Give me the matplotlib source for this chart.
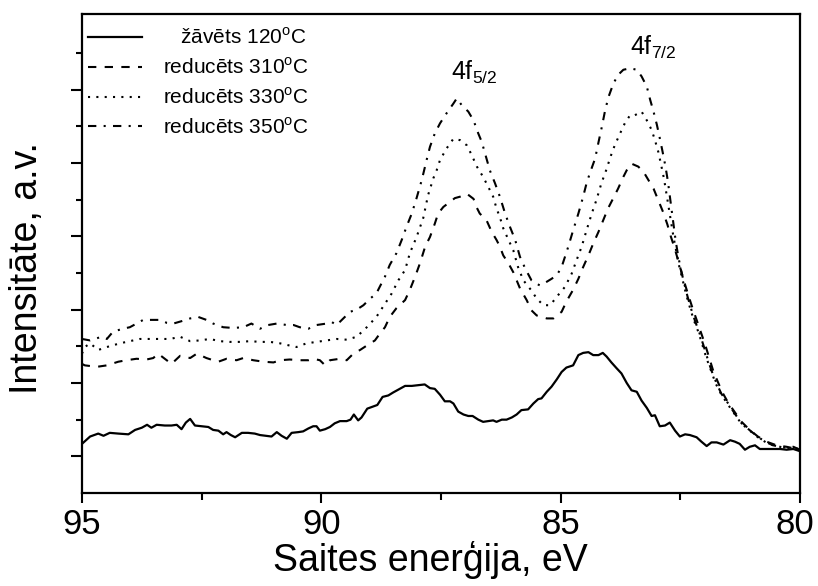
import matplotlib
matplotlib.use("Agg")
import matplotlib.pyplot as plt
import matplotlib.transforms as mtransforms
from matplotlib.ticker import FixedLocator, NullFormatter

plt.rcParams['font.family'] = ['Liberation Sans', 'DejaVu Sans']
plt.rcParams['mathtext.fontset'] = 'custom'
plt.rcParams['mathtext.rm'] = 'Liberation Sans'

# žāvēts 120 C
e_120 = [95.0, 94.83, 94.66, 94.55, 94.42, 94.24, 94.03, 93.89, 93.75, 93.64, 93.55, 93.44, 93.27, 93.13,
         93.02, 92.92, 92.83, 92.74, 92.64, 92.50, 92.36, 92.26, 92.15, 92.05, 91.98, 91.89, 91.80, 91.66,
         91.53, 91.39, 91.28, 91.16, 91.04, 90.93, 90.83, 90.72, 90.62, 90.48, 90.38, 90.27, 90.17, 90.10,
         90.03, 89.92, 89.82, 89.72, 89.61, 89.47, 89.39, 89.32, 89.23, 89.16, 89.04, 88.91, 88.83, 88.72,
         88.60, 88.50, 88.36, 88.25, 88.11, 87.97, 87.84, 87.73, 87.63, 87.52, 87.42, 87.31, 87.24, 87.14,
         87.03, 86.93, 86.84, 86.72, 86.62, 86.51, 86.41, 86.34, 86.23, 86.13, 86.02, 85.92, 85.82, 85.68,
         85.57, 85.47, 85.40, 85.29, 85.19, 85.08, 84.98, 84.88, 84.74, 84.63, 84.53, 84.42, 84.32, 84.21,
         84.12, 84.04, 83.94, 83.83, 83.73, 83.62, 83.52, 83.41, 83.31, 83.20, 83.10, 83.03, 82.93, 82.82,
         82.72, 82.61, 82.51, 82.40, 82.30, 82.16, 82.06, 81.95, 81.85, 81.74, 81.60, 81.46, 81.36, 81.26,
         81.15, 81.05, 80.94, 80.84, 80.63, 80.42, 80.28, 80.14, 80.00]
i_120 = [0.17, 0.27, 0.31, 0.28, 0.32, 0.31, 0.30, 0.36, 0.39, 0.43, 0.39, 0.43, 0.42, 0.42,
         0.43, 0.37, 0.46, 0.51, 0.42, 0.41, 0.40, 0.36, 0.35, 0.30, 0.33, 0.29, 0.26, 0.32,
         0.32, 0.31, 0.29, 0.28, 0.27, 0.33, 0.28, 0.24, 0.32, 0.33, 0.34, 0.38, 0.41, 0.41,
         0.35, 0.37, 0.40, 0.45, 0.48, 0.48, 0.50, 0.57, 0.49, 0.53, 0.65, 0.68, 0.70, 0.81,
         0.83, 0.87, 0.92, 0.96, 0.96, 0.97, 0.98, 0.93, 0.92, 0.84, 0.75, 0.75, 0.72, 0.61,
         0.57, 0.55, 0.55, 0.50, 0.47, 0.48, 0.49, 0.47, 0.50, 0.50, 0.53, 0.57, 0.63, 0.64,
         0.72, 0.78, 0.79, 0.88, 0.95, 1.05, 1.15, 1.21, 1.24, 1.38, 1.41, 1.42, 1.38, 1.38,
         1.41, 1.36, 1.28, 1.20, 1.13, 1.00, 0.90, 0.88, 0.76, 0.66, 0.55, 0.56, 0.41, 0.42,
         0.46, 0.35, 0.27, 0.30, 0.29, 0.26, 0.20, 0.14, 0.19, 0.19, 0.16, 0.22, 0.20, 0.17,
         0.09, 0.13, 0.15, 0.10, 0.10, 0.10, 0.09, 0.10, 0.07]

# reducēts 310 C
e_310 = [95.0, 94.94, 94.69, 94.48, 94.24, 94.07, 93.86, 93.65, 93.51, 93.41, 93.23, 93.13, 92.95, 92.74,
         92.60, 92.40, 92.26, 92.15, 91.98, 91.77, 91.63, 91.42, 91.21, 91.00, 90.86, 90.66, 90.45, 90.27,
         90.17, 90.03, 89.92, 89.82, 89.61, 89.47, 89.33, 89.19, 89.05, 88.88, 88.78, 88.67, 88.57, 88.43,
         88.25, 88.15, 88.04, 87.94, 87.83, 87.73, 87.63, 87.56, 87.45, 87.35, 87.21, 87.10, 86.96, 86.82,
         86.76, 86.69, 86.55, 86.44, 86.34, 86.27, 86.20, 86.09, 85.99, 85.85, 85.71, 85.61, 85.50, 85.29,
         85.15, 84.98, 84.88, 84.74, 84.63, 84.53, 84.42, 84.32, 84.21, 84.11, 84.01, 83.90, 83.80, 83.69,
         83.62, 83.52, 83.38, 83.27, 83.17, 83.06, 82.96, 82.86, 82.77, 82.70, 82.62, 82.55, 82.48, 82.41,
         82.33, 82.25, 82.16, 82.07, 81.98, 81.90, 81.82, 81.72, 81.62, 81.50, 81.36, 81.22, 81.05, 80.88,
         80.70, 80.49, 80.28, 80.00]
i_310 = [1.26, 1.24, 1.22, 1.24, 1.29, 1.31, 1.33, 1.32, 1.34, 1.40, 1.31, 1.26, 1.37, 1.34,
         1.40, 1.34, 1.31, 1.29, 1.33, 1.31, 1.34, 1.31, 1.29, 1.28, 1.31, 1.32, 1.31, 1.31,
         1.33, 1.31, 1.24, 1.31, 1.33, 1.31, 1.40, 1.45, 1.51, 1.58, 1.67, 1.76, 1.90, 2.02,
         2.13, 2.27, 2.45, 2.63, 2.86, 2.99, 3.17, 3.31, 3.40, 3.45, 3.52, 3.54, 3.58, 3.51,
         3.40, 3.31, 3.22, 3.06, 2.95, 2.86, 2.74, 2.63, 2.51, 2.29, 2.13, 1.99, 1.92, 1.88,
         1.88, 1.97, 2.11, 2.27, 2.42, 2.58, 2.74, 2.90, 3.06, 3.22, 3.38, 3.52, 3.65, 3.81,
         3.90, 3.99, 3.95, 3.88, 3.77, 3.65, 3.49, 3.33, 3.16, 3.00, 2.84, 2.68, 2.52, 2.36,
         2.19, 2.03, 1.86, 1.69, 1.52, 1.35, 1.18, 1.02, 0.87, 0.73, 0.60, 0.47, 0.36, 0.27,
         0.20, 0.15, 0.13, 0.09]

# reducēts 330 C
e_330 = [95.0, 94.94, 94.83, 94.66, 94.48, 94.21, 94.00, 93.79, 93.58, 93.37, 93.16, 92.95, 92.74, 92.54,
         92.33, 92.12, 91.91, 91.70, 91.49, 91.28, 91.07, 90.86, 90.66, 90.52, 90.31, 90.10, 89.89, 89.68,
         89.47, 89.26, 89.05, 88.85, 88.67, 88.53, 88.39, 88.25, 88.15, 88.01, 87.87, 87.77, 87.66, 87.59,
         87.52, 87.38, 87.24, 87.10, 86.96, 86.86, 86.75, 86.62, 86.51, 86.41, 86.34, 86.27, 86.20, 86.09,
         85.99, 85.89, 85.78, 85.61, 85.50, 85.36, 85.22, 85.05, 84.91, 84.77, 84.67, 84.56, 84.46, 84.35,
         84.25, 84.15, 84.05, 83.95, 83.87, 83.76, 83.66, 83.55, 83.45, 83.31, 83.20, 83.10, 83.03, 82.96,
         82.90, 82.84, 82.79, 82.74, 82.69, 82.64, 82.58, 82.52, 82.45, 82.38, 82.30, 82.22, 82.12, 82.04,
         81.96, 81.86, 81.76, 81.65, 81.51, 81.37, 81.23, 81.05, 80.88, 80.71, 80.56, 80.35, 80.14, 80.00]
i_330 = [1.40, 1.49, 1.54, 1.45, 1.49, 1.54, 1.57, 1.60, 1.60, 1.60, 1.60, 1.63, 1.57, 1.58,
         1.60, 1.57, 1.56, 1.56, 1.57, 1.56, 1.56, 1.54, 1.51, 1.49, 1.54, 1.56, 1.58, 1.60,
         1.59, 1.63, 1.76, 1.90, 2.08, 2.22, 2.40, 2.54, 2.77, 2.99, 3.25, 3.56, 3.79, 3.90,
         4.04, 4.20, 4.33, 4.31, 4.24, 4.11, 3.95, 3.81, 3.67, 3.54, 3.38, 3.26, 3.11, 2.95,
         2.81, 2.58, 2.40, 2.26, 2.15, 2.06, 2.06, 2.20, 2.31, 2.49, 2.67, 2.86, 3.08, 3.31,
         3.50, 3.72, 3.90, 4.10, 4.24, 4.40, 4.54, 4.65, 4.65, 4.70, 4.58, 4.45, 4.31, 4.15,
         3.97, 3.78, 3.58, 3.38, 3.18, 2.98, 2.78, 2.58, 2.40, 2.21, 2.03, 1.86, 1.69, 1.52,
         1.35, 1.17, 0.99, 0.85, 0.71, 0.58, 0.45, 0.35, 0.26, 0.19, 0.15, 0.12, 0.11, 0.10]

# reducēts 350 C
e_350 = [95.0, 94.83, 94.59, 94.48, 94.35, 94.14, 94.00, 93.72, 93.51, 93.37, 93.23, 93.09, 92.88, 92.74,
         92.57, 92.40, 92.26, 92.05, 91.84, 91.63, 91.46, 91.28, 91.11, 90.93, 90.72, 90.58, 90.45, 90.27,
         90.10, 89.89, 89.78, 89.68, 89.54, 89.40, 89.26, 89.12, 88.98, 88.85, 88.78, 88.67, 88.57, 88.43,
         88.32, 88.22, 88.11, 88.01, 87.90, 87.80, 87.73, 87.63, 87.52, 87.38, 87.24, 87.17, 87.07, 86.93,
         86.82, 86.72, 86.65, 86.58, 86.48, 86.37, 86.27, 86.16, 86.06, 85.95, 85.85, 85.74, 85.61, 85.50,
         85.43, 85.29, 85.19, 85.08, 84.98, 84.91, 84.84, 84.74, 84.63, 84.53, 84.46, 84.39, 84.28, 84.21,
         84.14, 84.07, 84.00, 83.90, 83.80, 83.69, 83.55, 83.41, 83.31, 83.20, 83.13, 83.06, 82.99, 82.93,
         82.87, 82.81, 82.76, 82.72, 82.68, 82.64, 82.60, 82.55, 82.49, 82.42, 82.35, 82.27, 82.19, 82.10,
         82.02, 81.94, 81.85, 81.74, 81.64, 81.50, 81.36, 81.22, 81.04, 80.87, 80.70, 80.56, 80.35, 80.14,
         80.00]
i_350 = [1.60, 1.58, 1.63, 1.60, 1.70, 1.74, 1.76, 1.86, 1.86, 1.86, 1.82, 1.81, 1.85, 1.88,
         1.90, 1.86, 1.81, 1.76, 1.75, 1.76, 1.81, 1.74, 1.79, 1.81, 1.79, 1.79, 1.76, 1.74,
         1.79, 1.81, 1.83, 1.79, 1.88, 1.97, 2.00, 2.06, 2.15, 2.22, 2.31, 2.45, 2.61, 2.77,
         2.95, 3.13, 3.31, 3.52, 3.77, 4.04, 4.22, 4.40, 4.54, 4.68, 4.81, 4.88, 4.79, 4.70,
         4.58, 4.40, 4.29, 4.13, 3.90, 3.72, 3.54, 3.31, 3.13, 2.95, 2.72, 2.56, 2.40, 2.35,
         2.33, 2.38, 2.42, 2.47, 2.58, 2.72, 2.86, 3.08, 3.31, 3.54, 3.72, 3.86, 4.06, 4.28,
         4.49, 4.72, 4.90, 5.08, 5.20, 5.27, 5.29, 5.27, 5.18, 5.04, 4.86, 4.70, 4.52, 4.34,
         4.15, 3.95, 3.75, 3.55, 3.35, 3.15, 2.95, 2.75, 2.55, 2.36, 2.18, 2.00, 1.84, 1.68,
         1.52, 1.35, 1.17, 0.99, 0.85, 0.72, 0.58, 0.45, 0.35, 0.26, 0.19, 0.15, 0.12, 0.13,
         0.09]

labels = ["   žāvēts 120$^{\\mathrm{o}}$C", "reducēts 310$^{\\mathrm{o}}$C",
          "reducēts 330$^{\\mathrm{o}}$C", "reducēts 350$^{\\mathrm{o}}$C"]
peak_labels = ["4f$_{\\mathrm{5/2}}$", "4f$_{\\mathrm{7/2}}$"]
peak_pos = [(87.30, 5.13), (83.55, 5.47)]

fig = plt.figure(figsize=(8.18, 5.86), dpi=100)
ax = fig.add_axes([0.1002, 0.1587, 0.8778, 0.8174])

lw = 1.5
ax.plot(e_120, i_120, color="black", lw=1.6, linestyle="-", label=labels[0])
ax.plot(e_310, i_310, color="black", lw=lw, linestyle=(0, (4, 4)), label=labels[1])
ax.plot(e_330, i_330, color="black", lw=lw, linestyle=(0, (1, 3)), label=labels[2])
ax.plot(e_350, i_350, color="black", lw=lw, linestyle=(0, (4, 3.5, 1, 3.5)), label=labels[3])

for txt, (x, y) in zip(peak_labels, peak_pos):
    ax.text(x, y, txt, fontsize=18, ha="left", va="baseline")

ax.set_xlim(95, 80)
ax.set_ylim(-0.5, 6.03)
ax.set_xticks([95, 90, 85, 80])
ax.xaxis.set_minor_locator(FixedLocator([92.5, 87.5, 82.5]))
ax.set_yticks([0, 1, 2, 3, 4, 5])
ax.yaxis.set_minor_locator(FixedLocator([0.5, 1.5, 2.5, 3.5, 4.5, 5.5]))
ax.yaxis.set_major_formatter(NullFormatter())
ax.tick_params(axis="x", which="major", length=7, width=1.5, labelsize=25, pad=4)
ax.tick_params(axis="x", which="minor", length=5, width=1.5)
ax.tick_params(axis="y", which="major", length=8, width=1.5)
ax.tick_params(axis="y", which="minor", length=4, width=1.5)
for s in ax.spines.values():
    s.set_linewidth(1.6)

# the last label sits right at the figure edge, nudge it inside
fig.canvas.draw()
last = ax.get_xticklabels()[-1]
last.set_transform(last.get_transform() + mtransforms.ScaledTranslation(-4 / 72, 0, fig.dpi_scale_trans))

ax.set_xlabel("Saites enerģija, eV", fontsize=27)
ax.set_ylabel("Intensitāte, a.v.", fontsize=27)
ax.xaxis.set_label_coords(0.485, -0.1)
ax.yaxis.set_label_coords(-0.052, 0.47)

ax.legend(loc="upper left", bbox_to_anchor=(0, 0.985), frameon=False, fontsize=15,
          borderaxespad=0.1, borderpad=0.2, handlelength=2.6, handletextpad=1.0,
          labelspacing=0.44)

fig.savefig("out.png", dpi=100)
